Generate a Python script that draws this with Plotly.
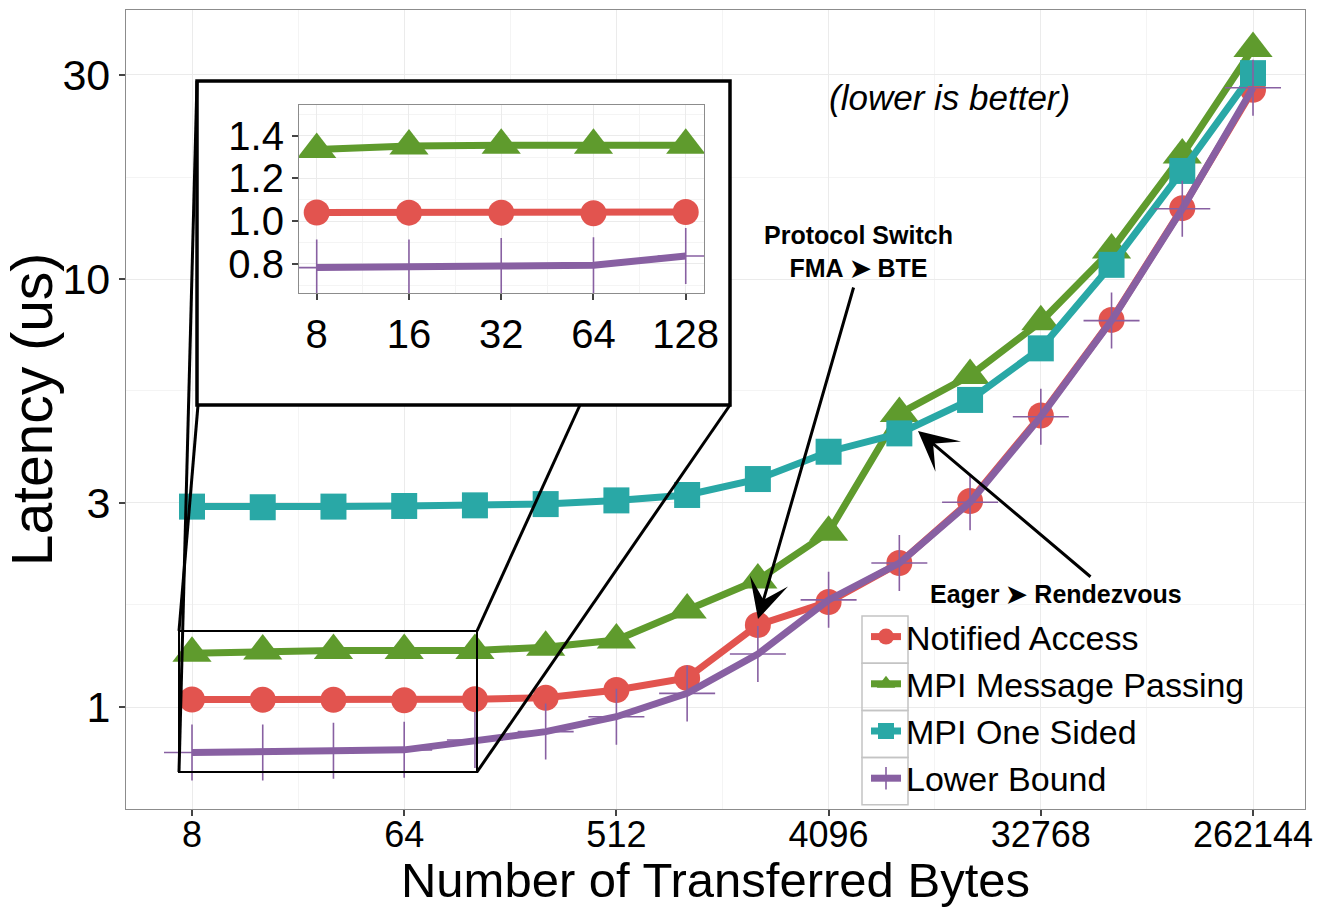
import math
import plotly.graph_objects as go

# ---------------- data ----------------
message_bytes = [8, 16, 32, 64, 128, 256, 512, 1024, 2048, 4096, 8192,
                 16384, 32768, 65536, 131072, 262144]
notified_access = [1.041, 1.040, 1.040, 1.037, 1.043, 1.051, 1.096, 1.169,
                   1.555, 1.76, 2.17, 3.03, 4.80, 8.03, 14.65, 27.7]
mpi_message_passing = [1.336, 1.352, 1.356, 1.356, 1.356, 1.38, 1.434, 1.685,
                       1.98, 2.56, 4.85, 5.95, 7.95, 11.7, 19.5, 34.6]
mpi_one_sided = [2.94, 2.93, 2.94, 2.95, 2.96, 2.98, 3.04, 3.13,
                 3.41, 3.95, 4.36, 5.22, 6.89, 10.8, 17.9, 30.3]
lower_bound = [0.783, 0.783, 0.790, 0.794, 0.837, 0.876, 0.949, 1.076,
               1.33, 1.78, 2.17, 3.01, 4.77, 8.0, 14.6, 28.0]

series_names = ["Notified Access", "MPI Message Passing", "MPI One Sided", "Lower Bound"]
x_tick_vals = [8, 64, 512, 4096, 32768, 262144]
y_tick_vals = [1, 3, 10, 30]
inset_x_ticks = [8, 16, 32, 64, 128]
inset_y_ticks = [0.8, 1.0, 1.2, 1.4]
inset_count = 5  # the inset zooms onto 8..128 bytes

# ---------------- style ----------------
colors = ["#E2544F", "#5F9B2D", "#29A8A6", "#8860A2"]
symbols = ["circle", "triangle-up", "square", "cross-thin"]
msizes = [26, 34, 26, 40]
FONT = "Liberation Sans, Arial, Helvetica, sans-serif"
GRID = "#EBEBEB"
MINOR = "#F4F4F4"
BORDER = "#8C8C8C"

W, H = 1328, 907
ML, MR, MT, MB = 126, 23, 10, 98
PW, PH = W - ML - MR, H - MT - MB


def px(x):
    return (x - ML) / PW


def py(y):
    return (H - MB - y) / PH


series_values = [notified_access, mpi_message_passing, mpi_one_sided, lower_bound]

fig = go.Figure()

# main traces
for name, vals, c, s, ms in zip(series_names, series_values, colors, symbols, msizes):
    marker = dict(symbol=s, size=ms, color=c)
    if s == "cross-thin":
        marker["line"] = dict(width=1.6, color=c)
    fig.add_trace(go.Scatter(
        x=message_bytes, y=vals, name=name, mode="lines+markers",
        line=dict(color=c, width=7), marker=marker,
        legendgroup=name, xaxis="x", yaxis="y"))

# white frame behind the inset (its own subplot so it covers the main grid)
fig.add_trace(go.Scatter(x=[None], y=[None], xaxis="x2", yaxis="y2",
                         showlegend=False, hoverinfo="skip"))

# inset traces
for name, vals, c, s, ms in zip(series_names, series_values, colors, symbols, msizes):
    marker = dict(symbol=s, size=ms, color=c)
    if s == "cross-thin":
        marker["line"] = dict(width=1.6, color=c)
    fig.add_trace(go.Scatter(
        x=message_bytes[:inset_count], y=vals[:inset_count], name=name,
        mode="lines+markers", line=dict(color=c, width=7), marker=marker,
        showlegend=False, xaxis="x3", yaxis="y3"))


def geo_mid(vals):
    return [math.sqrt(a * b) for a, b in zip(vals[:-1], vals[1:])]


def lin_mid(vals):
    return [(a + b) / 2 for a, b in zip(vals[:-1], vals[1:])]


x_minor = geo_mid(x_tick_vals)
y_minor = geo_mid(y_tick_vals)
ix_minor = geo_mid(inset_x_ticks)
iy_minor = lin_mid([0.6] + inset_y_ticks + [1.6])

axis_common = dict(showline=True, mirror=True, linecolor=BORDER, linewidth=1.2,
                   ticks="outside", ticklen=6, tickwidth=1.5, tickcolor="#444",
                   gridcolor=GRID, gridwidth=1.3, zeroline=False, automargin=False)

# inset domain (pixels -> paper)
ix0, ix1, iy0, iy1 = 299, 704, 105, 293
# frame domain
fx0, fx1, fy0, fy1 = 197, 730, 81, 405

fig.update_layout(
    width=W, height=H,
    margin=dict(l=ML, r=MR, t=MT, b=MB),
    paper_bgcolor="white", plot_bgcolor="white",
    font=dict(family=FONT, color="black"),
    xaxis=dict(type="log", range=[math.log10(2 ** 2.067), math.log10(2 ** 18.735)],
               tickvals=x_tick_vals, ticktext=[str(v) for v in x_tick_vals],
               tickfont=dict(size=36, color="black"), ticklabelstandoff=-12,
               minor=dict(tickvals=x_minor, showgrid=True, gridcolor=MINOR, ticks=""),
               title=dict(text="Number of Transferred Bytes", font=dict(size=49), standoff=14),
               **axis_common),
    yaxis=dict(type="log", range=[-0.2384, 1.629],
               tickvals=y_tick_vals, ticktext=[str(v) for v in y_tick_vals],
               tickfont=dict(size=43, color="black"),
               minor=dict(tickvals=y_minor, showgrid=True, gridcolor=MINOR, ticks=""),
               title=dict(text="Latency (us)", font=dict(size=57), standoff=0),
               **axis_common),
    xaxis2=dict(domain=[px(fx0), px(fx1)], range=[0, 1], visible=False, anchor="y2"),
    yaxis2=dict(domain=[py(fy1), py(fy0)], range=[0, 1], visible=False, anchor="x2"),
    xaxis3=dict(domain=[px(ix0), px(ix1)], anchor="y3", type="log",
                range=[math.log10(2 ** 2.808), math.log10(2 ** 7.198)],
                tickvals=inset_x_ticks, ticktext=[str(v) for v in inset_x_ticks],
                tickfont=dict(size=40, color="black"),
                minor=dict(tickvals=ix_minor, showgrid=True, gridcolor=MINOR, ticks=""),
                **axis_common),
    yaxis3=dict(domain=[py(iy1), py(iy0)], anchor="x3", range=[0.664, 1.544],
                tickvals=inset_y_ticks, tickformat=".1f",
                tickfont=dict(size=40, color="black"),
                minor=dict(tickvals=iy_minor, showgrid=True, gridcolor=MINOR, ticks=""),
                **axis_common),
    legend=dict(x=px(866), y=py(608), xanchor="left", yanchor="top",
                bgcolor="rgba(0,0,0,0)", font=dict(size=34, color="black"),
                tracegroupgap=0, itemwidth=30),
    showlegend=True,
)

shapes = []
# inset frame
shapes.append(dict(type="rect", xref="paper", yref="paper",
                   x0=px(fx0), x1=px(fx1), y0=py(fy1), y1=py(fy0),
                   line=dict(color="black", width=3.5), layer="above"))
# zoom rectangle on the main panel
rx0, rx1, ry0, ry1 = 179, 477, 631, 772
shapes.append(dict(type="rect", xref="paper", yref="paper",
                   x0=px(rx0), x1=px(rx1), y0=py(ry1), y1=py(ry0),
                   line=dict(color="black", width=2), layer="above"))
# connector lines
for (a, b), (c, d) in [((rx0, ry1), (fx0, fy0)), ((rx0, ry0), (fx0 + 1, fy1)),
                       ((rx1, ry0), (580, fy1)), ((rx1, ry1), (fx1, fy1))]:
    shapes.append(dict(type="line", xref="paper", yref="paper",
                       x0=px(a), y0=py(b), x1=px(c), y1=py(d),
                       line=dict(color="black", width=3), layer="above"))
# legend key boxes (follow the legend row pitch)
row_h = 47.2
box_top = 616
for i in range(4):
    shapes.append(dict(type="rect", xref="paper", yref="paper",
                       x0=px(862), x1=px(908),
                       y0=py(box_top + row_h * (i + 1)), y1=py(box_top + row_h * i),
                       line=dict(color="#C4C4C4", width=1.5), layer="above"))
fig.update_layout(shapes=shapes)

annotations = [
    dict(text="<i>(lower is better)</i>", x=px(949), y=py(98), xref="paper", yref="paper",
         showarrow=False, font=dict(size=35, family=FONT), xanchor="center", yanchor="middle"),
    dict(text="<b>Protocol Switch</b><br><b>FMA ➤ BTE</b>", x=px(858), y=py(252),
         xref="paper", yref="paper", showarrow=False,
         font=dict(size=25, family=FONT), xanchor="center", yanchor="middle"),
    dict(text="<b>Eager ➤ Rendezvous</b>", x=px(1056), y=py(594), xref="paper", yref="paper",
         showarrow=False, font=dict(size=25, family=FONT), xanchor="center", yanchor="middle"),
    dict(text="", x=px(758), y=py(619), xref="paper", yref="paper", showarrow=True,
         ax=96, ay=-333, arrowhead=3, arrowsize=2.2, arrowwidth=3, arrowcolor="black"),
    dict(text="", x=px(918), y=py(431), xref="paper", yref="paper", showarrow=True,
         ax=174, ay=147, arrowhead=3, arrowsize=2.2, arrowwidth=3, arrowcolor="black"),
]
fig.update_layout(annotations=annotations)

fig.write_html("out.html", config={"displayModeBar": False},
               post_script="document.body.style.margin='0';")
